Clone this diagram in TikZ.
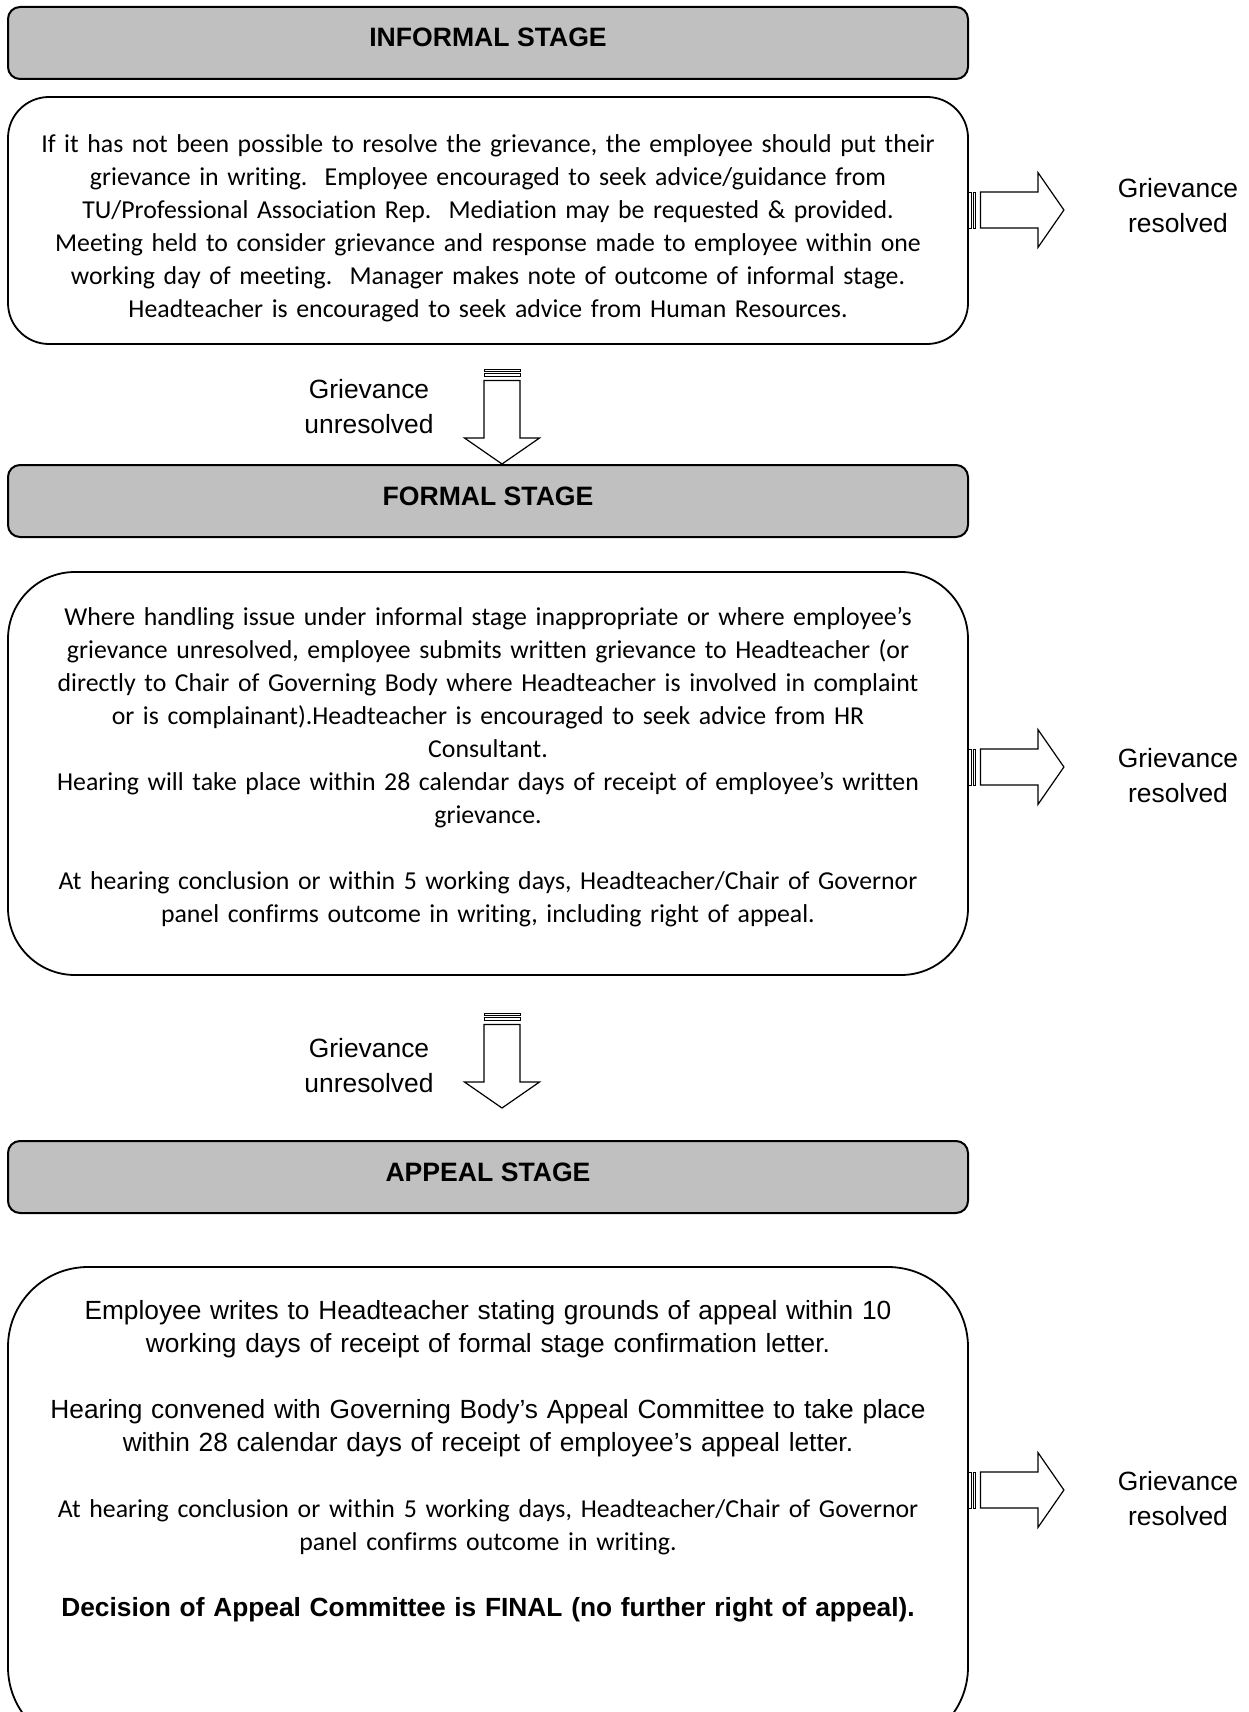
\documentclass[tikz,border=0pt]{standalone}
\usepackage{fontspec}
\newfontfamily\calfont[Ligatures=NoCommon]{Carlito}
\newfontfamily\arifont{Liberation Sans}
\usetikzlibrary{calc}
\definecolor{headgray}{HTML}{C0C0C0}
\begin{document}
\begin{tikzpicture}[x=1pt,y=1pt,
  stagehead/.style={draw=black,line width=2pt,fill=headgray,rounded corners=12pt,minimum width=960pt,minimum height=72pt,inner sep=0pt},
  headtext/.style={inner sep=0pt,font=\arifont\bfseries\fontsize{26.6}{30}\selectfont},
  stagebody/.style={draw=black,line width=1.8pt,minimum width=960pt,inner sep=0pt},
  bodytext/.style={align=center,text width=950pt,inner sep=0pt,font=\fontsize{25.8}{33}\selectfont},
  lbl/.style={align=center,inner sep=0pt,font=\arifont\fontsize{26.4}{35}\selectfont},
  arrline/.style={draw=black,line width=1.2pt},
  barrow/.pic={
    \draw[draw=black,line width=0.9pt] (0,-18) rectangle (2.4,18);
    \draw[draw=black,line width=0.9pt] (4.4,-18) rectangle (7,18);
    \draw[arrline,fill=white] (11.5,-18) -- (69,-18) -- (69,-37.5) -- (95,0) -- (69,37.5) -- (69,18) -- (11.5,18) -- cycle;
  }
]
\useasboundingbox (0,0) rectangle (1249,-1712);

% stage headers
\node[stagehead] (infhead) at (488,-43) {};
\node[stagehead] (formhead) at (488,-501) {};
\node[stagehead] (apphead) at (488,-1177) {};
\node[headtext] (infheadtxt) at ([yshift=6pt]infhead.center) {INFORMAL STAGE};
\node[headtext] (formheadtxt) at ([yshift=5pt]formhead.center) {FORMAL STAGE};
\node[headtext] (appheadtxt) at ([yshift=5pt]apphead.center) {APPEAL STAGE};

% bodies
\node[stagebody,minimum height=247pt,rounded corners=41pt] (infbody) at (488,-220.5) {};
\node[stagebody,minimum height=403pt,rounded corners=67pt] (formbody) at (488,-773.5) {};
\node[stagebody,minimum height=480pt,rounded corners=80pt] (appbody) at (488,-1507) {};

% body texts
\node[bodytext] (inftext) at (488,-228) {\calfont
If it has not been possible to resolve the grievance, the employee should put their\\
grievance in writing.\ \ Employee encouraged to seek advice/guidance from\\
TU/Professional Association Rep.\ \ Mediation may be requested \& provided.\\
Meeting held to consider grievance and response made to employee within one\\
working day of meeting.\ \ Manager makes note of outcome of informal stage.\\
Headteacher is encouraged to seek advice from Human Resources.};

\node[bodytext] (formtext) at (488,-767) {\calfont
Where handling issue under informal stage inappropriate or where employee’s\\
grievance unresolved, employee submits written grievance to Headteacher (or\\
directly to Chair of Governing Body where Headteacher is involved in complaint\\
or is complainant).Headteacher is encouraged to seek advice from HR\\
Consultant.\\
Hearing will take place within 28 calendar days of receipt of employee’s written\\
grievance.\\[33pt]
At hearing conclusion or within 5 working days, Headteacher/Chair of Governor\\
panel confirms outcome in writing, including right of appeal.};

\node[bodytext,anchor=north,font=\fontsize{26.3}{33}\selectfont] (apptext) at (488,-1300) {\arifont
Employee writes to Headteacher stating grounds of appeal within 10\\
working days of receipt of formal stage confirmation letter.\\[33pt]
Hearing convened with Governing Body’s Appeal Committee to take place\\
within 28 calendar days of receipt of employee’s appeal letter.\\[33pt]
{\calfont\fontsize{25.8}{33}\selectfont At hearing conclusion or within 5 working days, Headteacher/Chair of Governor\\
panel confirms outcome in writing.}\\[33pt]
{\bfseries Decision of Appeal Committee is FINAL (no further right of appeal).}};

% right (resolved) arrows
\pic at ([yshift=10.5pt]infbody.east) {barrow};
\pic at ([yshift=6.5pt]formbody.east) {barrow};
\pic at ([yshift=17pt]appbody.east) {barrow};

\node[lbl] (res1) at (1178,-206) {Grievance\\resolved};
\node[lbl] (res2) at (1178,-776) {Grievance\\resolved};
\node[lbl] (res3) at (1178,-1499) {Grievance\\resolved};

% down (unresolved) arrows
\pic[rotate=-90] at ([xshift=14pt,yshift=95pt]formhead.north) {barrow};
\pic[rotate=-90] at ([xshift=14pt,yshift=127pt]apphead.north) {barrow};

\node[lbl] (unres1) at (369,-407) {Grievance\\unresolved};
\node[lbl] (unres2) at (369,-1066) {Grievance\\unresolved};
\end{tikzpicture}
\end{document}
